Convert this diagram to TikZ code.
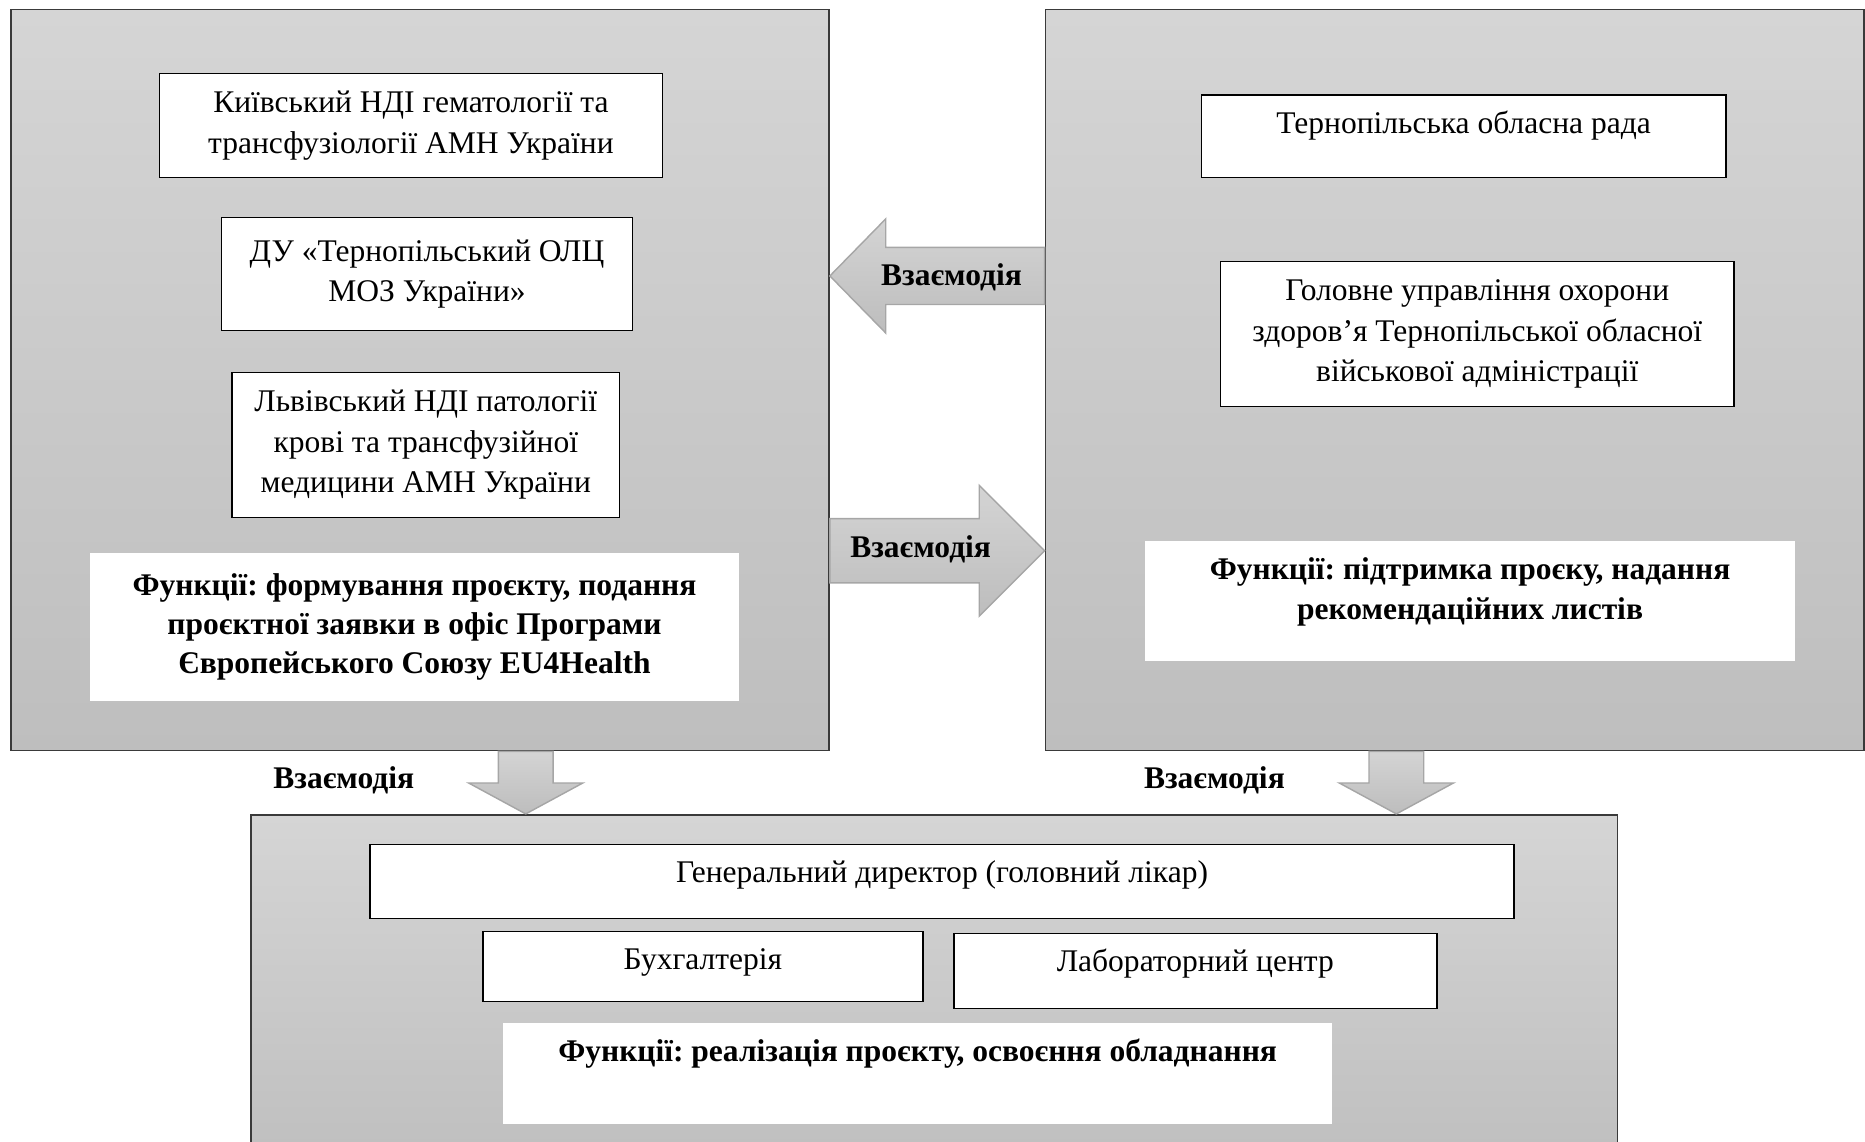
\documentclass[tikz,border=0pt]{standalone}
\usepackage{fontspec}
\setmainfont{Liberation Serif}
\frenchspacing
\usetikzlibrary{calc}
\definecolor{panetop}{HTML}{D5D5D5}
\definecolor{panebot}{HTML}{BEBEBE}
\definecolor{arrtop}{HTML}{D4D4D4}
\definecolor{arrbot}{HTML}{BDBDBD}
\definecolor{arredge}{HTML}{A6A6A6}
\definecolor{cframe}{HTML}{3A3A3A}
\newcommand\lift[2]{\raisebox{#1}[\height][\depth]{#2}}
% block arrow: tail, tip, half shaft, half head, head length
\newcommand\blockarrow[5]{%
  \path[bigarrow] let \p1=(#1), \p2=(#2),
      \n1={atan2((\y2)-(\y1),(\x2)-(\x1))}, \n2={veclen((\x2)-(\x1),(\y2)-(\y1))} in
    ($(#1)+(\n1+90:#3)$) -- ++(\n1:\n2-#5) -- ++(\n1+90:#4-#3) -- (#2)
    -- ($(#2)+(\n1+180:#5)+(\n1-90:#4)$) -- ++(\n1+90:#4-#3) -- ++(\n1+180:\n2-#5) -- cycle;}
\tikzset{
  every picture/.style={font=\fontsize{26.5}{34}\selectfont},
  pane/.style 2 args={draw=cframe, line width=1.4pt, top color=panetop, bottom color=panebot,
    minimum width=#1, minimum height=#2, inner sep=0pt},
  box/.style 2 args={draw=black, fill=white, line width=1.2pt, align=center,
    minimum width=#1, minimum height=#2, inner sep=0pt},
  duty/.style 2 args={fill=white, align=center, font=\fontsize{26.5}{33}\selectfont\bfseries,
    minimum width=#1, minimum height=#2, inner sep=0pt},
  bigarrow/.style={draw=arredge, line width=1.2pt, top color=arrtop, bottom color=arrbot},
  tag/.style={font=\fontsize{26.5}{34}\selectfont\bfseries},
}

\begin{document}
\begin{tikzpicture}[x=1pt, y=1pt]
  \useasboundingbox (0,0) rectangle (1568,-960);
  % panels
  \node[pane={688pt}{623pt}] (left) at (353,-319.5) {};
  \node[pane={688pt}{623pt}] (right) at (1223,-319.5) {};
  \node[pane={1149pt}{305pt}] (hosp) at (785.5,-837.5) {};
  % partners
  \node[box={423pt}{87pt}] (kyiv) at (345.5,-105.5) {Київський НДІ гематології та\\трансфузіології АМН України};
  \node[box={346pt}{95pt}] (olc) at (359,-230.5) {ДУ «Тернопільський ОЛЦ\\МОЗ України»};
  \node[box={326pt}{122pt}] (lviv) at (358,-374) {Львівський НДІ патології\\крові та трансфузійної\\медицини АМН України};
  \node[duty={545pt}{124pt}] (duty1) at (348.5,-527) {Функції: формування проєкту, подання\\проєктної заявки в офіс Програми\\Європейського Союзу EU4Health};
  % region
  \node[box={441pt}{69pt}] (rada) at (1230.5,-114.5) {\lift{9pt}{Тернопільська обласна рада}};
  \node[box={432pt}{122pt}] (uoz) at (1242,-281) {Головне управління охорони\\здоров’я Тернопільської обласної\\військової адміністрації};
  \node[duty={546pt}{101pt}] (duty2) at (1236,-505.5) {\lift{8pt}{\begin{tabular}{@{}c@{}}Функції: підтримка проєку, надання\\рекомендаційних листів\end{tabular}}};
  % hospital
  \node[box={962pt}{62pt}] (head) at (792,-741) {\lift{5pt}{Генеральний директор (головний лікар)}};
  \node[box={370pt}{59pt}] (acc) at (591,-812.5) {\lift{3pt}{Бухгалтерія}};
  \node[box={406pt}{63pt}] (lab) at (1005,-816.5) {\lift{6pt}{Лабораторний центр}};
  \node[duty={697pt}{85pt}] (duty3) at (771.5,-902.5) {\lift{17pt}{Функції: реалізація проєкту, освоєння обладнання}};
  % arrows
  \coordinate (a1) at (right.west |- 0,-232);
  \coordinate (b1) at (left.east |- 0,-232);
  \coordinate (a2) at (left.east |- 0,-463);
  \coordinate (b2) at (right.west |- 0,-463);
  \coordinate (a3) at (left.south -| 442,0);
  \coordinate (b3) at (hosp.north -| 442,0);
  \coordinate (a4) at (right.south -| 1174,0);
  \coordinate (b4) at (hosp.north -| 1174,0);
  \blockarrow{a1}{b1}{24pt}{48pt}{47pt}
  \blockarrow{a2}{b2}{27pt}{55pt}{55pt}
  \blockarrow{a3}{b3}{23pt}{48pt}{26pt}
  \blockarrow{a4}{b4}{23pt}{48pt}{26pt}
  \node[tag] (t1) at (800,-233) {Взаємодія};
  \node[tag] (t2) at (774,-462) {Взаємодія};
  \node[tag] (t3) at (289,-656) {Взаємодія};
  \node[tag] (t4) at (1021,-656) {Взаємодія};
\end{tikzpicture}
\end{document}
